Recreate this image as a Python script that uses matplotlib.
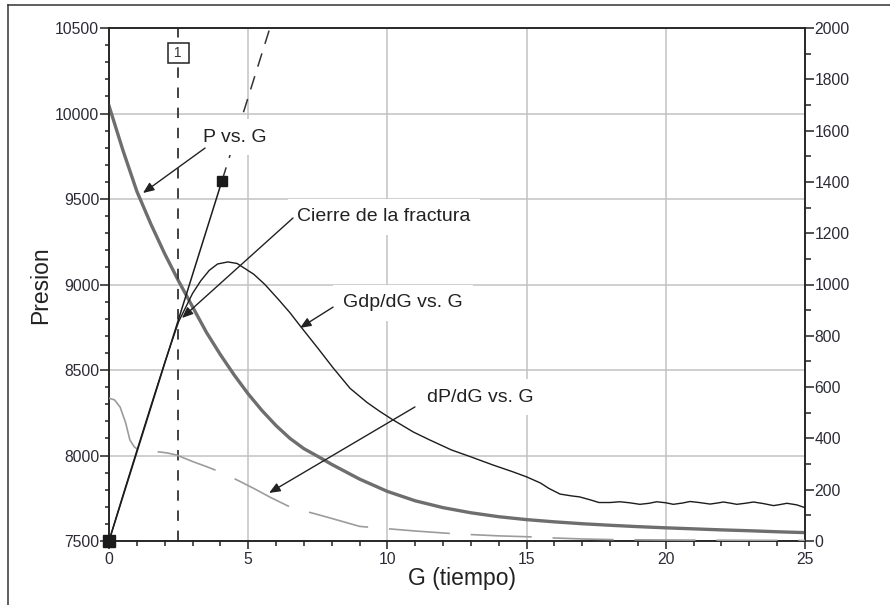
import matplotlib
matplotlib.use('Agg')
import matplotlib.pyplot as plt
from matplotlib.ticker import MultipleLocator, FixedLocator
from matplotlib.lines import Line2D

plt.rcParams['font.family'] = ['Liberation Sans', 'DejaVu Sans']
plt.rcParams['lines.scale_dashes'] = False

# ---------------- data ----------------
g_p = [0, 0.5, 1, 1.5, 2, 2.5, 3, 3.5, 4, 4.5, 5, 5.5, 6, 6.5, 7, 7.5, 8, 9, 10,
       11, 12, 13, 14, 15, 16, 17, 18, 19, 20, 21, 22, 23, 24, 25]
p_vals = [10045, 9785, 9545, 9355, 9180, 9020, 8870, 8720, 8590, 8470, 8360, 8262,
          8175, 8100, 8040, 7995, 7948, 7862, 7790, 7735, 7695, 7665, 7642, 7625,
          7612, 7601, 7592, 7584, 7577, 7571, 7565, 7560, 7554, 7549]

g_gdp = [0, 0.5, 1.0, 1.5, 2.0, 2.5, 3.0, 3.3, 3.6, 3.9, 4.27, 4.6, 4.8, 5.2, 5.6,
         6.1, 6.5, 6.9, 7.5, 8.05, 8.66, 9.27, 9.73, 10.16, 10.93, 11.5, 12.3, 13.0,
         13.8, 14.5, 15.0, 15.5, 15.8, 16.2, 16.6, 16.9, 17.3, 17.6, 18.0, 18.35,
         18.7, 19.07, 19.4, 19.67, 20.0, 20.27, 20.6, 20.87, 21.2, 21.59, 21.85,
         22.07, 22.3, 22.55, 22.85, 23.15, 23.5, 23.87, 24.1, 24.35, 24.7, 25.0]
gdp_vals = [0, 178, 352, 525, 695, 855, 965, 1015, 1055, 1080, 1088, 1082, 1068,
            1040, 1000, 940, 890, 834, 752, 675, 595, 540, 505, 475, 425, 395, 355,
            328, 296, 270, 250, 226, 205, 183, 176, 172, 160, 150, 150, 153, 149,
            143, 147, 153, 149, 143, 148, 154, 150, 144, 148, 152, 148, 143, 147,
            152, 146, 138, 142, 147, 141, 130]

g_dpdg = [0, 0.2, 0.4, 0.6, 0.75, 0.9, 1.05, 1.4, 1.83, 2.1, 2.43, 3.0, 3.5, 3.9,
          4.6, 5.2, 5.8, 6.57, 7.3, 8.0, 9.0, 10.1, 11.0, 12.3, 13.0, 14.0, 15.2,
          15.9, 17.0, 18.2, 20.0, 22.0, 25.0]
dpdg_vals = [557, 550, 522, 460, 394, 368, 355, 350, 347, 343, 335, 310, 290, 273,
             238, 205, 170, 129, 109, 88, 57, 47, 39, 29, 25, 20, 16, 12, 8, 5, 4, 3, 2]

tangent_g = [0.0, 4.06]
tangent_vals = [0.0, 1405.0]
closure_g = 2.48

x_ticks = [0, 5, 10, 15, 20, 25]
left_ticks = [7500, 8000, 8500, 9000, 9500, 10000, 10500]
right_ticks = [0, 200, 400, 600, 800, 1000, 1200, 1400, 1600, 1800, 2000]

# ---------------- figure ----------------
W, H = 890, 605
fig = plt.figure(figsize=(W / 100, H / 100), dpi=100)
fig.patch.set_facecolor('white')

# outer frame (top and left edges)
fig.add_artist(Line2D([8 / W, 1.0], [1 - 5 / H, 1 - 5 / H], color='#333333', lw=1.1))
fig.add_artist(Line2D([8 / W, 8 / W], [0, 1 - 5 / H], color='#333333', lw=1.1))

ax = fig.add_axes([109 / W, 64 / H, 696 / W, 513 / H])
ax2 = ax.twinx()

ax.set_xlim(0, 25)
ax.set_ylim(7500, 10500)
ax2.set_ylim(0, 2000)

tick_col = '#2b2b35'
for a in (ax, ax2):
    for s in a.spines.values():
        s.set_color('#222222')
        s.set_linewidth(1.1)

ax.xaxis.set_major_locator(FixedLocator(x_ticks))
ax.xaxis.set_minor_locator(MultipleLocator(1))
ax.yaxis.set_major_locator(FixedLocator(left_ticks))
ax.yaxis.set_minor_locator(MultipleLocator(100))
ax2.yaxis.set_major_locator(FixedLocator(right_ticks))
ax2.yaxis.set_minor_locator(MultipleLocator(100))

ax.tick_params(axis='x', which='major', length=6, width=1.1, pad=2,
               labelsize=11.3, labelcolor=tick_col, color='#222222')
ax.tick_params(axis='x', which='minor', length=3.5, width=1.1, color='#222222')
ax.tick_params(axis='y', which='major', length=6.5, width=1.1, pad=0.5,
               labelsize=11.3, labelcolor=tick_col, color='#222222')
ax.tick_params(axis='y', which='minor', length=3, width=1.1, color='#222222')
ax2.tick_params(axis='y', which='major', length=6.5, width=1.1, pad=0.5,
                labelsize=11.3, labelcolor=tick_col, color='#222222')
ax2.tick_params(axis='y', which='minor', length=4.5, width=1.1, color='#222222')

ax.set_axisbelow(True)
ax.grid(True, which='major', color='#c2c2c2', lw=1.1)

# P vs G (left axis)
ax.plot(g_p, p_vals, color='#6e6e6e', lw=2.4, zorder=3)

# closure vertical dashed line
ax.axvline(closure_g, color='#333333', lw=1.3, dashes=(7.5, 7), zorder=3)
ax.text(closure_g, 10500 - (53 - 28) / 85.5 * 500, ' 1 ', ha='center', va='center',
        fontsize=10, color='#333333', zorder=6,
        bbox=dict(boxstyle='square,pad=0.2', fc='white', ec='#222222', lw=1.1))

# right-axis series
ax2.plot(g_dpdg, dpdg_vals, color='#9c9c9c', lw=1.2, dashes=(44, 15), zorder=3)
ax2.plot(g_gdp, gdp_vals, color='#1c1c1c', lw=1.0, zorder=3)
ax2.plot(tangent_g, tangent_vals, color='#1c1c1c', lw=1.1, zorder=3)
slope = tangent_vals[1] / tangent_g[1]
g_end = 2000 / slope * 1.02
ax2.plot([tangent_g[1], g_end], [tangent_vals[1], slope * g_end], color='#333333',
         lw=1.1, dashes=(10, 7.2), zorder=3)
ax2.plot([tangent_g[0]], [tangent_vals[0]], marker='s', ms=8, color='#1a1a1a',
         clip_on=False, zorder=7)
ax2.plot([tangent_g[1]], [tangent_vals[1]], marker='s', ms=7, color='#1a1a1a',
         zorder=7)

# annotations (drawn on top axes, in left-axis data coords)
box = dict(boxstyle='square,pad=0.5', fc='white', ec='none')
labels = [
    ('P vs. G', (4.53, 9862), (3.45, 9798), (1.22, 9535)),
    ('Cierre de la fractura', (9.88, 9395), (6.61, 9389), (2.62, 8804)),
    ('Gdp/dG vs. G', (10.56, 8892), (8.05, 8868), (6.86, 8746)),
    ('dP/dG vs. G', (13.33, 8342), (10.99, 8284), (5.75, 7781)),
]
for txt, pos, start, tip in labels:
    ax2.text(pos[0], pos[1], txt, transform=ax.transData, ha='center', va='center',
             fontsize=14, color='#222222', bbox=box, zorder=5)
    ax2.annotate('', xy=tip, xycoords=ax.transData, xytext=start,
                 textcoords=ax.transData,
                 arrowprops=dict(arrowstyle='-|>,head_length=0.6,head_width=0.25',
                                 mutation_scale=11, color='#222222', lw=1.0,
                                 shrinkA=0, shrinkB=0),
                 zorder=6)

fig.text(462 / W, 1 - 578 / H, 'G (tiempo)', ha='center', va='center',
         fontsize=16.5, color='#222222')
fig.text(41 / W, 1 - 285 / H, 'Presion', ha='center', va='center', rotation=90,
         fontsize=16.5, color='#222222')

fig.savefig('out.png', dpi=100, facecolor='white')
